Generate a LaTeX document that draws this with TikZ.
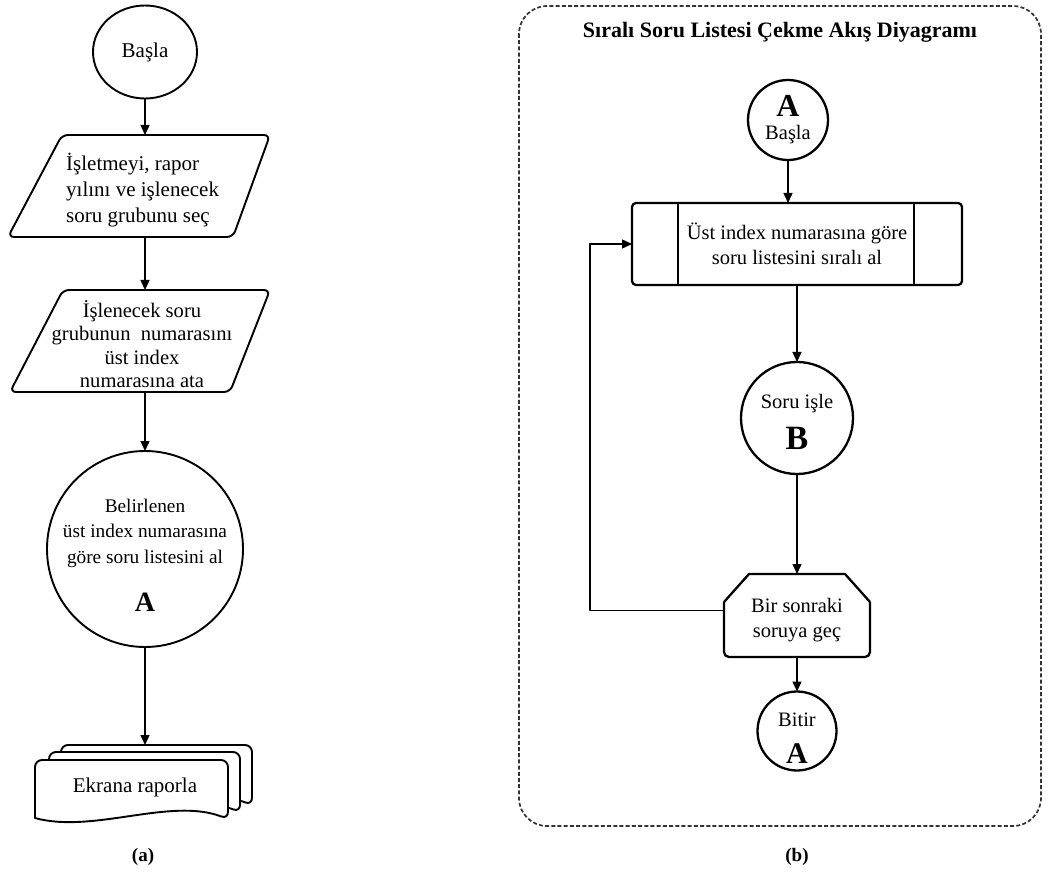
\documentclass[tikz,border=0pt]{standalone}
\usepackage{fontspec}
\setmainfont{Liberation Serif}
\usetikzlibrary{arrows.meta,calc,shapes.geometric}

% one page of a printed document: white fill, rounded top corners, wavy bottom
\newcommand\reportpage[5]{% left, right, top, bottom-left, bottom-right
  \draw[leftline, fill=white]
    (#1,#4) [rounded corners=7pt] -- (#1,#3) -- (#2,#3) -- (#2,#5) [sharp corners]
    .. controls ({#2-0.3*(#2-#1)},{#5-22}) and ({#1+0.3*(#2-#1)},{#4+16}) .. (#1,#4) -- cycle;
}

\begin{document}
\begin{tikzpicture}[x=1pt,y=-1pt,
  line join=round,
  leftline/.style={draw=black, line width=1.9pt},
  shapeline/.style={draw=black, line width=2.3pt},
  conn/.style={draw=black, line width=1.4pt, -{Triangle[length=10pt,width=9pt]}},
  txtL/.style={font=\fontsize{21}{26}\selectfont, align=center, inner sep=0pt},
  txtR/.style={font=\fontsize{20.5}{25}\selectfont, align=center, inner sep=0pt},
  bigletter/.style={font=\bfseries\fontsize{30}{30}\selectfont, inner sep=0pt},
  caption/.style={font=\bfseries\fontsize{19}{22}\selectfont, inner sep=0pt},
  holder/.style={rectangle, inner sep=0pt, outer sep=0pt},
  circ/.style={circle, inner sep=0pt, outer sep=0pt},
]
\useasboundingbox (0,0) rectangle (1049,874);

% ---------------- (a) report flow ----------------
\node[ellipse, leftline, minimum width=104pt, minimum height=93pt, inner sep=0pt,
      font=\fontsize{21}{26}\selectfont] (start) at (145,52) {Başla};

% selection input (parallelogram)
\draw[leftline, rounded corners=6pt] (62,135) -- (270,135) -- (233,237) -- (8,237) -- cycle;
\node[holder, minimum width=200pt, minimum height=102pt] (select) at (145,186) {};
\node[txtL, align=left, anchor=west] (selecttext) at (66,190)
  {İşletmeyi, rapor\\yılını ve işlenecek\\soru grubunu seç};

% index assignment (parallelogram)
\draw[leftline, rounded corners=6pt] (63,290) -- (270,290) -- (230,392) -- (10,392) -- cycle;
\node[holder, minimum width=200pt, minimum height=102pt] (assign) at (145,341) {};
\node[font=\fontsize{20.6}{23.5}\selectfont, align=center, inner sep=0pt] (assigntext) at (142,344)
  {İşlenecek soru\\grubunun\ \ numarasını\\üst index\\numarasına ata};

% connector A: fetch the list
\node[circ, leftline, minimum size=196pt] (fetch) at (145,549) {};
\node[txtL, font=\fontsize{19.3}{25.5}\selectfont] (fetchtext) at (145,533)
  {Belirlenen\\üst index numarasına\\göre soru listesini al};
\node[bigletter, font=\bfseries\fontsize{28}{28}\selectfont] (fetchA) at (145,602) {A};

% screen report (stacked documents)
\reportpage{61}{252}{745}{809}{805}
\reportpage{49}{240}{752}{815}{812}
\reportpage{35}{228}{760}{818}{819}
\node[txtL] (report) at (135,787) {Ekrana raporla};
\coordinate (reporttop) at (145,745);

\draw[conn] (start.south) -- (start.south |- select.north);
\draw[conn] (select.south) -- (assign.north);
\draw[conn] (assign.south) -- (fetch.north);
\draw[conn] (fetch.south) -- (reporttop);

\node[caption] (capa) at (143,857) {(a)};

% ---------------- (b) ordered question list ----------------
\draw[draw=black!80, line width=1.7pt, dash pattern=on 4pt off 2.2pt, rounded corners=28pt]
  (519,6) rectangle (1041,826);
\node[font=\bfseries\fontsize{22}{26}\selectfont, inner sep=0pt] (title) at (780,32)
  {Sıralı Soru Listesi Çekme Akış Diyagramı};

% entry connector A
\node[circ, shapeline, minimum size=80pt] (entry) at (788,120) {};
\node[bigletter, font=\bfseries\fontsize{32}{32}\selectfont] (entryA) at (788,106) {A};
\node[txtR] (entrytext) at (788,135) {Başla};

% predefined process: ordered list
\node[holder, shapeline, rounded corners=4pt, minimum width=330pt, minimum height=82pt,
      txtR] (list) at (797,244) {Üst index numarasına göre\\soru listesini sıralı al};
\draw[shapeline] ([xshift=46pt]list.north west) -- ([xshift=46pt]list.south west);
\draw[shapeline] ([xshift=-48pt]list.north east) -- ([xshift=-48pt]list.south east);

% connector B: process question
\node[circ, shapeline, minimum size=112pt] (proc) at (797,418) {};
\node[txtR] (proctext) at (797,404) {Soru işle};
\node[bigletter, font=\bfseries\fontsize{34}{34}\selectfont] (procB) at (797,438) {B};

% loop limit: next question
\node[holder, minimum width=146pt, minimum height=83pt] (next) at (797,615.5) {};
\draw[shapeline]
  ($(next.south west)+(0,-55)$) -- ($(next.north west)+(25,0)$)
  -- ($(next.north east)+(-25,0)$) -- ($(next.south east)+(0,-55)$);
\draw[shapeline, rounded corners=5pt]
  ($(next.south west)+(0,-55)$) -- (next.south west) -- (next.south east) -- ($(next.south east)+(0,-55)$);
\node[txtR] (nexttext) at (797,620) {Bir sonraki\\soruya geç};

% exit connector A
\node[circ, shapeline, minimum size=79pt] (finish) at (797,731) {};
\node[txtR] (finishtext) at (797,720) {Bitir};
\node[bigletter] (finishA) at (797,754) {A};

\draw[conn] (entry.south) -- (entry.south |- list.north);
\draw[conn] (list.south) -- (proc.north);
\draw[conn] (proc.south) -- (next.north);
\draw[conn] (next.south) -- (finish.north);
\draw[conn] ([yshift=5pt]next.west) -- ++(-134,0) |- (list.west);

\node[caption] (capb) at (797,857) {(b)};
\end{tikzpicture}
\end{document}
